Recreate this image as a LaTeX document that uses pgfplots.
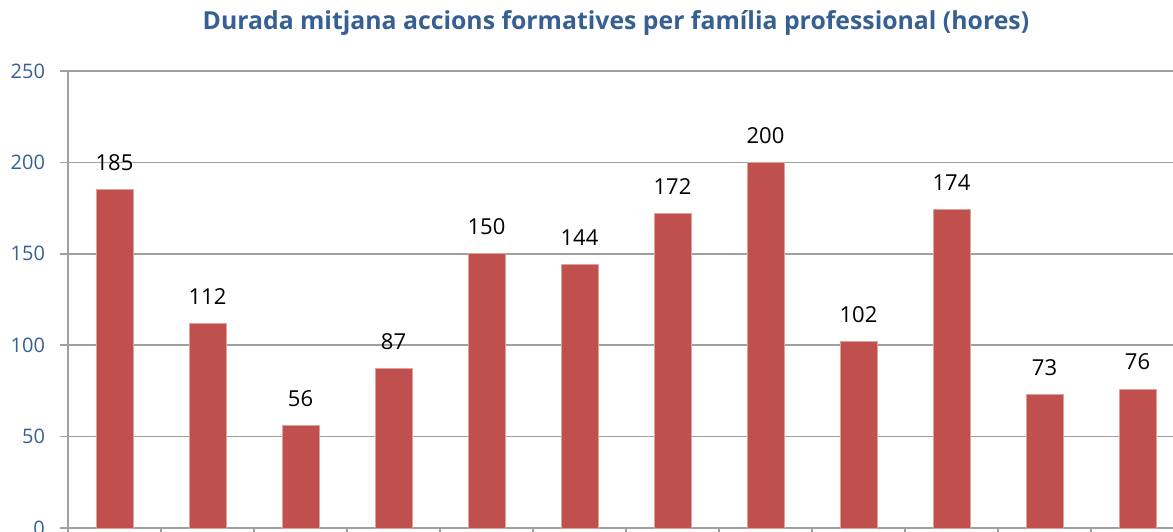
\documentclass[border=0pt]{standalone}
\usepackage{pgfplots}
\pgfplotsset{compat=1.18}
\usepackage{fontspec}
\setmainfont{Open Sans}
\definecolor{barred}{HTML}{C0504D}
\definecolor{baredge}{HTML}{E0A09E}
\definecolor{titleblue}{HTML}{376092}
\definecolor{gridgray}{HTML}{A0A0A0}
\begin{document}
\begin{tikzpicture}[x=1pt,y=1pt]
\begin{axis}[
    at={(34pt,1.5pt)}, anchor=south west,
    scale only axis,
    width=558pt, height=228.5pt,
    ybar, bar width=18.5pt,
    xmin=-0.5, xmax=11.5,
    ymin=0, ymax=250,
    ytick={0,50,...,250},
    xtick={-0.5,0.5,...,11.5},
    xticklabels={},
    ymajorgrids,
    grid style={gridgray, line width=0.75pt},
    axis line style={gridgray, line width=0.75pt},
    axis x line*=bottom, axis y line*=left,
    tick style={gridgray, line width=0.75pt},
    major tick length=4pt,
    tick align=outside,
    ticklabel style={font=\fontsize{10}{12}\selectfont, text=titleblue},
    yticklabel style={xshift=-4pt},
    /pgf/number format/assume math mode=true,
    nodes near coords,
    every node near coord/.append style={font=\fontsize{11}{13}\selectfont, text=black, yshift=6pt},
    title={Durada mitjana accions formatives per família professional (hores)},
    every axis title shift=0pt,
    title style={at={(axis description cs:0.491,1.105)}, anchor=center,
        font=\fontsize{12.4}{14}\selectfont\bfseries, text=titleblue},
    clip=false,
]
\addplot[fill=barred, draw=baredge, line width=0.5pt] coordinates {
    (0,185) (1,112) (2,56) (3,87) (4,150) (5,144)
    (6,172) (7,200) (8,102) (9,174) (10,73) (11,76)
};
\end{axis}
\pgfresetboundingbox
\useasboundingbox (0,0) rectangle (586.5pt,265.5pt);
\end{tikzpicture}
\end{document}
